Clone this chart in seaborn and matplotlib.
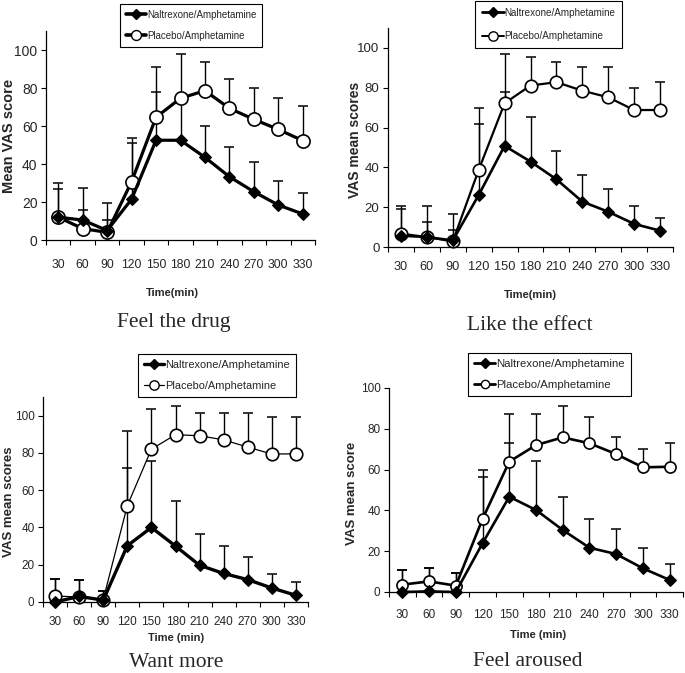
import numpy as np
import pandas as pd
import matplotlib
matplotlib.use("Agg")
import matplotlib.pyplot as plt
import seaborn as sns
from matplotlib.lines import Line2D

# ---------------- data ----------------
times = [30, 60, 90, 120, 150, 180, 210, 240, 270, 300, 330]
groups = ["Naltrexone/Amphetamine", "Placebo/Amphetamine"]

# Feel the drug
drug_nal = [12, 10.5, 5, 21.5, 52.5, 52.5, 43.5, 33.3, 25.4, 18.4, 13.7]
drug_nal_sd = [14.7, 5.3, 5.5, 29.5, 25.6, 19.5, 16.7, 15.8, 15.8, 12.8, 11.2]
drug_pla = [12, 6, 4, 30.7, 64.6, 74.6, 78.6, 69.3, 63.5, 58.2, 52.3]
drug_pla_sd = [18.2, 21.2, 15.6, 23.2, 26.6, 23.3, 14.9, 15.3, 16.7, 16.7, 18.4]

# Like the effect
like_nal = [5.7, 5, 3.3, 26.1, 50.8, 42.9, 34, 22.8, 17.7, 11.6, 8.2]
like_nal_sd = [13.3, 7.4, 5.4, 35.5, 26.9, 22.6, 14.2, 13.4, 11.3, 9.0, 6.5]
like_pla = [6.7, 5, 2.8, 38.7, 72.2, 81.1, 82.8, 78.5, 75.2, 68.8, 68.8]
like_pla_sd = [13.7, 15.4, 13.9, 31.0, 24.8, 14.5, 10.3, 12.1, 15.1, 10.9, 14.2]

# Want more
want_nal = [0, 3, 1, 30.2, 40, 30, 19.7, 15.3, 12, 7.5, 3.6]
want_nal_sd = [12.2, 8.7, 4.9, 41.6, 35.9, 24.4, 16.7, 14.7, 11.9, 7.4, 7.2]
want_pla = [3.2, 2.7, 1.3, 51.7, 82, 89.8, 89.2, 87, 83.1, 79.4, 79.5]
want_pla_sd = [9.0, 9.0, 4.6, 39.9, 21.6, 15.2, 12.2, 14.4, 18.3, 19.9, 19.6]

# Feel aroused
arou_nal = [0, 0.3, 0, 23.9, 46.7, 40.2, 30.4, 21.7, 18.6, 11.6, 5.9]
arou_nal_sd = [10.9, 11.7, 9.3, 32.6, 26.4, 24.0, 16.0, 13.9, 12.3, 9.8, 7.8]
arou_pla = [3.6, 5.2, 3.1, 35.8, 63.9, 72, 75.8, 72.9, 67.6, 61.1, 61.4]
arou_pla_sd = [7.3, 6.8, 6.2, 24.2, 23.5, 15.4, 15.5, 13.0, 8.2, 9.0, 11.5]

titles = ["Feel the drug", "Like the effect", "Want more", "Feel aroused"]
ylabels = ["Mean VAS score", "VAS mean scores", "VAS mean scores", "VAS mean score"]
xlabels = ["Time(min)", "Time(min)", "Time (min)", "Time (min)"]

# ---------------- style ----------------
sns.set_style("ticks")
SANS = "Liberation Sans"
plt.rcParams["font.family"] = [SANS, "DejaVu Sans"]

W, H = 685, 673
fig = plt.figure(figsize=(W / 100, H / 100), dpi=100)


def fx(px):
    return px / W


def fy(py):
    return 1 - py / H


# panel layout in pixels: x0, x1, y_top, y_bottom, ymax
layout = [
    dict(x0=46, x1=315, yt=31, yb=240, ymax=110),
    dict(x0=388, x1=673, yt=28, yb=247, ymax=110),
    dict(x0=43, x1=308, yt=397, yb=602, ymax=110),
    dict(x0=389, x1=683, yt=388, yb=592, ymax=100),
]
series = [
    (drug_nal, drug_nal_sd, drug_pla, drug_pla_sd),
    (like_nal, like_nal_sd, like_pla, like_pla_sd),
    (want_nal, want_nal_sd, want_pla, want_pla_sd),
    (arou_nal, arou_nal_sd, arou_pla, arou_pla_sd),
]
sty = [
    dict(lwn=2.3, lwp=2.3, msc=9.5, msd=6.5, xt_fs=8.8, yt_fs=10, tick_pad=13.5,
         lab_fs=8, ylab_fs=10.5, leg_fs=7.0, leg_lwn=2.6, leg_lwp=2.6,
         hl=2.1, ls=1.12, bp=0.6),
    dict(lwn=1.9, lwp=1.6, msc=9.0, msd=6.3, xt_fs=9.2, yt_fs=9.5, tick_pad=10,
         lab_fs=8, ylab_fs=10, leg_fs=7.1, leg_lwn=2.0, leg_lwp=1.4,
         hl=2.2, ls=1.35, bp=0.7),
    dict(lwn=2.4, lwp=0.9, msc=9.0, msd=6.3, xt_fs=8.5, yt_fs=8.5, tick_pad=10,
         lab_fs=8, ylab_fs=9.5, leg_fs=7.95, leg_lwn=2.4, leg_lwp=0.9,
         hl=1.8, ls=0.95, bp=0.55),
    dict(lwn=1.9, lwp=1.9, msc=8.0, msd=5.8, xt_fs=8.5, yt_fs=8.5, tick_pad=12,
         lab_fs=8, ylab_fs=9.5, leg_fs=8.2, leg_lwn=2.0, leg_lwp=2.0,
         hl=1.8, ls=0.9, bp=0.55),
]
xlab_pos = [(172, 293), (530, 295), (176, 638), (538, 635)]
ylab_pos = [(9, 136), (355, 140), (9, 502), (352, 493)]
title_pos = [(174, 327), (530, 330), (176, 667), (528, 666)]
legend_pos = [(120, 4), (475, 1), (138, 354), (468, 353)]

pos = np.arange(len(times))

for i in range(4):
    L = layout[i]
    S = sty[i]
    nal, nal_sd, pla, pla_sd = series[i]
    ax = fig.add_axes([fx(L["x0"]), fy(L["yb"]), fx(L["x1"] - L["x0"]), (L["yb"] - L["yt"]) / H])

    df = pd.DataFrame({
        "pos": np.concatenate([pos, pos]),
        "score": list(nal) + list(pla),
        "sd": list(nal_sd) + list(pla_sd),
        "group": [groups[0]] * len(pos) + [groups[1]] * len(pos),
    })
    dn = df[df.group == groups[0]]
    dp = df[df.group == groups[1]]

    # upper-only error bars
    for d in (dp, dn):
        ax.errorbar(d["pos"], d["score"], yerr=[np.zeros(len(d)), d["sd"]], fmt="none",
                    ecolor="black", elinewidth=1.0, capsize=3.5, capthick=1.1, zorder=2, clip_on=False)

    sns.lineplot(data=dn, x="pos", y="score", ax=ax, color="black", lw=S["lwn"], marker="D",
                 markersize=S["msd"], markerfacecolor="black", markeredgecolor="black",
                 errorbar=None, zorder=4, clip_on=False)
    sns.lineplot(data=dp, x="pos", y="score", ax=ax, color="black", lw=S["lwp"], marker="o",
                 markersize=S["msc"], markerfacecolor="white", markeredgecolor="black",
                 markeredgewidth=1.2, errorbar=None, zorder=3, clip_on=False)

    ax.set_xlim(-0.5, len(times) - 0.5)
    ax.set_ylim(0, L["ymax"])
    ax.set_yticks(np.arange(0, 101, 20))
    ax.set_xticks(pos)
    ax.set_xticklabels([str(t) for t in times], fontsize=S["xt_fs"])
    ax.set_xticks(np.arange(-0.5, len(times), 1), minor=True)
    ax.tick_params(axis="x", which="major", length=0, pad=S["tick_pad"])
    ax.tick_params(axis="x", which="minor", length=3.6, width=0.8, direction="out", color="black")
    ax.tick_params(axis="y", length=3.6, width=0.8, direction="out", pad=2.5, color="black",
                   labelsize=S["yt_fs"])
    sns.despine(ax=ax)
    for sp in ("left", "bottom"):
        ax.spines[sp].set_linewidth(0.9)
        ax.spines[sp].set_color("black")

    ax.set_xlabel(xlabels[i], fontsize=S["lab_fs"], fontweight="bold")
    ax.xaxis.label.set_va("center")
    ax.xaxis.set_label_coords(fx(xlab_pos[i][0]), fy(xlab_pos[i][1]), transform=fig.transFigure)
    ax.set_ylabel(ylabels[i], fontsize=S["ylab_fs"], fontweight="bold")
    ax.yaxis.label.set_va("center")
    ax.yaxis.set_label_coords(fx(ylab_pos[i][0]), fy(ylab_pos[i][1]), transform=fig.transFigure)

    handles = [
        Line2D([], [], color="black", lw=S["leg_lwn"], marker="D", markersize=S["msd"] * 0.8,
               markerfacecolor="black", markeredgecolor="black"),
        Line2D([], [], color="black", lw=S["leg_lwp"], marker="o", markersize=S["msc"] * 0.75,
               markerfacecolor="white", markeredgecolor="black"),
    ]
    leg = ax.legend(handles, groups, loc="upper left",
                    bbox_to_anchor=(fx(legend_pos[i][0]), fy(legend_pos[i][1])),
                    bbox_transform=fig.transFigure, frameon=True, fancybox=False,
                    edgecolor="black", framealpha=1, borderpad=S["bp"], handlelength=S["hl"],
                    handletextpad=0.1, labelspacing=S["ls"], borderaxespad=0,
                    prop=dict(size=S["leg_fs"]))
    leg.get_frame().set_linewidth(0.8)

    fig.text(fx(title_pos[i][0]), fy(title_pos[i][1]), titles[i], ha="center", va="baseline",
             family="Liberation Serif", fontsize=15.5)

fig.savefig("out.png", dpi=100)
